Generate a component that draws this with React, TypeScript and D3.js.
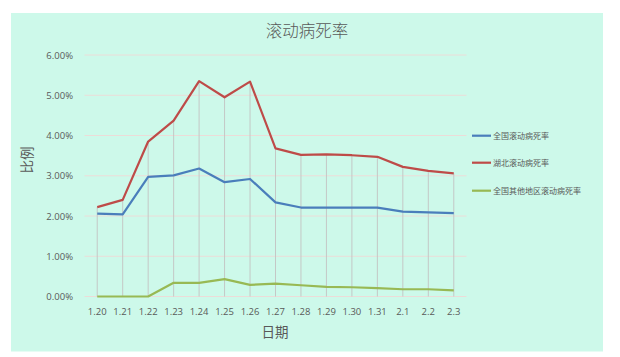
import React from "react";
import * as d3 from "d3";

const categories = ["1.20","1.21","1.22","1.23","1.24","1.25","1.26","1.27","1.28","1.29","1.30","1.31","2.1","2.2","2.3"];
const national = [2.06,2.04,2.97,3.01,3.18,2.84,2.92,2.34,2.21,2.21,2.21,2.21,2.11,2.09,2.07];
const hubei = [2.22,2.40,3.85,4.37,5.35,4.95,5.34,3.68,3.52,3.53,3.51,3.47,3.22,3.12,3.06];
const others = [0,0,0,0.34,0.34,0.43,0.29,0.32,0.28,0.24,0.23,0.21,0.18,0.18,0.15];
const yTicks = [0,1,2,3,4,5,6];
const seriesNames = ["全国滚动病死率","湖北滚动病死率","全国其他地区滚动病死率"];
const seriesColors = ["#4a7ebb","#be4b48","#98b954"];

export default function App() {
  const W = 620, H = 357;
  const x = d3.scaleBand<string>().domain(categories).range([84.5, 466.5]);
  const y = d3.scaleLinear().domain([0, 6]).range([296.5, 55]);
  const cx = (c: string) => (x(c) as number) + x.bandwidth() / 2;
  const series = [national, hubei, others];
  const line = (vals: number[]) =>
    d3.line<number>().x((_, i) => cx(categories[i])).y((v) => y(v))(vals) as string;
  const font = "'Open Sans', 'Noto Sans CJK SC', sans-serif";
  const cjk = "'Noto Sans CJK SC', sans-serif";
  return (
    <svg width={W} height={H} style={{ position: "absolute", left: 0, top: 0 }}>
      <rect x={0} y={0} width={W} height={H} fill="#ffffff" />
      <rect x={11} y={13} width={592} height={338.5} fill="#cdf9ea" />
      <text x={307} y={37} textAnchor="middle" fontFamily={cjk} fontSize={16.5} fill="#595959" fontWeight={300}>滚动病死率</text>
      {yTicks.map((t) => (
        <g key={t}>
          <line x1={84.5} x2={466.5} y1={y(t)} y2={y(t)} stroke="#ecdcd8" strokeWidth={1} />
          <text x={73} y={y(t) + 3.5} textAnchor="end" fontFamily={font} fontSize={9.5} fill="#595959">{t.toFixed(2)}%</text>
        </g>
      ))}
      {categories.map((c, i) => (
        <g key={c}>
          <line x1={cx(c)} x2={cx(c)} y1={y(Math.max(national[i], hubei[i], others[i]))} y2={y(0)} stroke="#c4c8c6" strokeWidth={1} />
          <text x={cx(c)} y={315} textAnchor="middle" fontFamily={font} fontSize={9.5} fill="#595959">{c}</text>
        </g>
      ))}
      {series.map((s, i) => (
        <path key={i} d={line(s)} fill="none" stroke={seriesColors[i]} strokeWidth={2.2} strokeLinejoin="round" />
      ))}
      <text x={275} y={337} textAnchor="middle" fontFamily={cjk} fontSize={13.5} fill="#595959">日期</text>
      <text transform="translate(32,160) rotate(-90)" textAnchor="middle" fontFamily={cjk} fontSize={13.5} fill="#595959">比例</text>
      {seriesNames.map((n, i) => {
        const ly = [135.7, 162.7, 190.7][i];
        return (
          <g key={n}>
            <line x1={472} x2={491} y1={ly} y2={ly} stroke={seriesColors[i]} strokeWidth={2.2} />
            <text x={493} y={ly + 3} fontFamily={cjk} fontSize={8} fill="#595959">{n}</text>
          </g>
        );
      })}
    </svg>
  );
}
